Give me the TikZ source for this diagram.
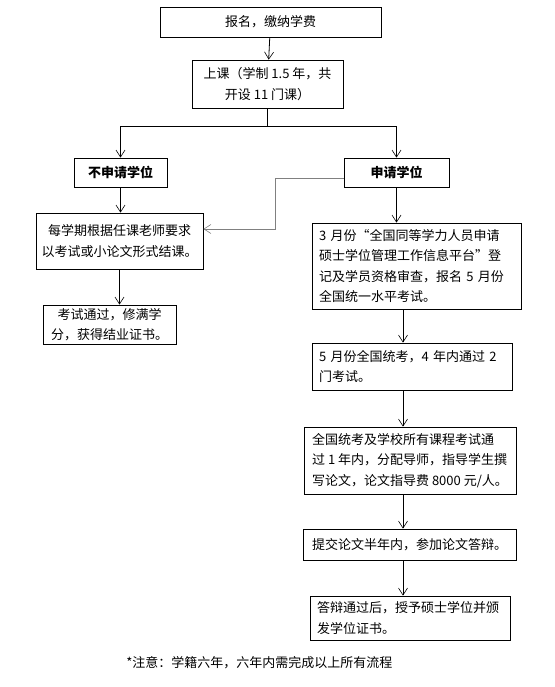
\documentclass[tikz,border=0pt]{standalone}
\usepackage{fontspec}
\setmainfont{Noto Sans CJK SC}
\usepackage{tikz}
\usetikzlibrary{positioning, arrows.meta, calc}

\begin{document}
\begin{tikzpicture}[x=1pt, y=-1pt, line width=0.8pt,
  font=\fontsize{13}{20.5}\selectfont,
  box/.style={draw, inner sep=0pt, align=center},
  arr/.style={-{Straight Barb[length=7pt,width=9pt,line width=0.6pt]}}]
  \useasboundingbox (0,0) rectangle (554,687);

  % Top of the flow
  \node[box, minimum width=221, minimum height=30] (sign) at (270.5,22) {报名，缴纳学费};
  \node[box, minimum width=151, minimum height=48] (lesson) at (267.5,84) {上课（学制 1.5 年，共\\开设 11 门课）};

  % The two choices
  \node[box, minimum width=93, minimum height=29, font=\fontsize{13}{20.5}\selectfont\bfseries] (no) at (120.5,172.5) {不申请学位};
  \node[box, minimum width=105, minimum height=29, font=\fontsize{13}{20.5}\selectfont\bfseries] (yes) at (396.5,172.5) {申请学位};

  % Left column
  \node[box, minimum width=167, minimum height=56] (term) at (119.5,241) {每学期根据任课老师要求\\以考试或小论文形式结课。};
  \node[box, minimum width=133, minimum height=39] (cert) at (109.5,324.5) {考试通过，修满学\\分，获得结业证书。};

  % Right column
  \node[box, minimum width=209, minimum height=86, align=left, text width=195] (reg) at (416.5,266) {3 月份“全国同等学力人员申请\\硕士学位管理工作信息平台”登\\记及学员资格审查，报名 5 月份\\全国统一水平考试。};
  \node[box, minimum width=200, minimum height=47, align=left, text width=186] (exam) at (412,366.5) {5 月份全国统考，4 年内通过 2\\门考试。};
  \node[box, minimum width=212, minimum height=67, align=left] (tutor) at (410,460.5) {全国统考及学校所有课程考试通\\过 1 年内，分配导师，指导学生撰\\写论文，论文指导费 8000 元/人。};
  \node[box, minimum width=213, minimum height=31] (thesis) at (409.5,544.5) {提交论文半年内，参加论文答辩。};
  \node[box, minimum width=200, minimum height=44, align=left, text width=186] (degree) at (410,618) {答辩通过后，授予硕士学位并颁\\发学位证书。};

  % Note
  \node[anchor=west, inner sep=0pt] (note) at (126,663) {*注意：学籍六年，六年内需完成以上所有流程};

  % Connectors
  \coordinate (spine) at (403,0);
  \draw[arr] (sign) -- (lesson);
  \coordinate (split) at (lesson.south |- 0,126);
  \draw[arr] (lesson.south) -- (split) -| (no.north);
  \draw[arr] (split) -| (yes.north);
  \draw[arr, gray] (yes.west |- 0,178) -| (275,229) -- (term.east |- 0,229);
  \draw[arr] (no) -- (no.south |- term.north);
  \draw[arr] (term.south) -- (term.south |- cert.north);
  \draw[arr] (yes.south) -- (yes.south |- reg.north);
  \draw[arr] (reg.south -| spine) -- (exam.north -| spine);
  \draw[arr] (exam.south -| spine) -- (tutor.north -| spine);
  \draw[arr] (tutor.south -| spine) -- (thesis.north -| spine);
  \draw[arr] (thesis.south -| spine) -- (degree.north -| spine);
\end{tikzpicture}
\end{document}
